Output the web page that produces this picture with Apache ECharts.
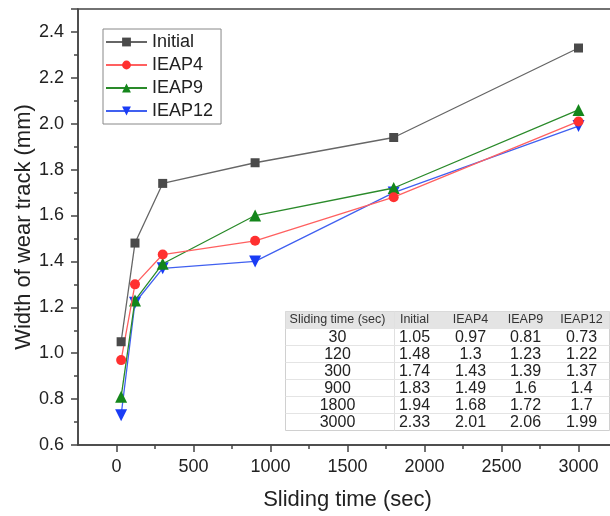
<!DOCTYPE html>
<html>
<head>
<meta charset="utf-8">
<script src="https://cdn.jsdelivr.net/npm/echarts@6/dist/echarts.min.js"></script>
<style>
html, body { margin: 0; padding: 0; background: #fff; }
#main { width: 610px; height: 516px; }
</style>
</head>
<body>
<div id="main"></div>
<script>
// sliding time (sec) and wear track width (mm)
var times = [30, 120, 300, 900, 1800, 3000];
var initial = [1.05, 1.48, 1.74, 1.83, 1.94, 2.33];
var ieap4 = [0.97, 1.3, 1.43, 1.49, 1.68, 2.01];
var ieap9 = [0.81, 1.23, 1.39, 1.6, 1.72, 2.06];
var ieap12 = [0.73, 1.22, 1.37, 1.4, 1.7, 1.99];
var names = ['Initial', 'IEAP4', 'IEAP9', 'IEAP12'];
var xTicks = [0, 500, 1000, 1500, 2000, 2500, 3000];
var xMinorTicks = [250, 750, 1250, 1750, 2250, 2750];

var font = 'Arial, "Liberation Sans", sans-serif';
var chart = echarts.init(document.getElementById('main'));

function pairs(ys) {
    return times.map(function (t, i) { return [t, ys[i]]; });
}

// inset table, built from the same arrays
var tblLeft = 283, tblTop = 309, tblW = 324, rowH = 17;
var colX = [52, 129, 185, 240, 296];
var header = ['Sliding time (sec)'].concat(names);
var cols = [times, initial, ieap4, ieap9, ieap12];
var tbl = [];
tbl.push({type: 'rect', shape: {x: 0, y: 0, width: tblW, height: rowH * 7},
    style: {fill: '#fff', stroke: '#d0d0d0', lineWidth: 1}});
tbl.push({type: 'rect', shape: {x: 0, y: 0, width: tblW, height: rowH},
    style: {fill: '#e4e4e4'}});
tbl.push({type: 'line', shape: {x1: 109, y1: 0, x2: 109, y2: rowH * 7},
    style: {stroke: '#e0e0e0', lineWidth: 1}});
header.forEach(function (h, c) {
    tbl.push({type: 'text', x: colX[c], y: rowH / 2,
        style: {text: h, fontSize: 12.5, fontFamily: font, fill: '#333', align: 'center', verticalAlign: 'middle'}});
});
times.forEach(function (t, r) {
    var y = rowH * (r + 1);
    tbl.push({type: 'line', shape: {x1: 0, y1: y, x2: tblW, y2: y},
        style: {stroke: '#e4e4e4', lineWidth: 1}});
    cols.forEach(function (col, c) {
        tbl.push({type: 'text', x: colX[c], y: y + rowH / 2 + 1,
            style: {text: String(col[r]), fontSize: 16, fontFamily: font, fill: '#222', align: 'center', verticalAlign: 'middle'}});
    });
});

var colors = ['#4a4a4a', '#ff3030', '#14861b', '#1a3cf5'];
var lineColors = ['#666666', '#ff6060', '#2a8a2a', '#4060f0'];
var symbols = ['rect', 'circle', 'triangle', 'triangle'];
var sizes = [9, 10, 12, 12];
var rots = [0, 0, 0, 180];
var datasets = [initial, ieap4, ieap9, ieap12];

var option = {
    animation: false,
    backgroundColor: '#fff',
    textStyle: {fontFamily: font},
    grid: {left: 78, top: 9, width: 539, height: 436, show: true, borderColor: '#444', borderWidth: 1.5,
        containLabel: false, outerBoundsMode: 'none'},
    legend: {
        left: 103, top: 29, orient: 'vertical',
        data: names,
        itemWidth: 41, itemHeight: 11, itemGap: 5,
        padding: [4, 8, 4, 2],
        borderColor: '#888', borderWidth: 1,
        textStyle: {fontSize: 18, color: '#222', lineHeight: 18, fontFamily: font}
    },
    xAxis: [{
        type: 'value', min: -250, max: 3250,
        position: 'bottom',
        name: 'Sliding time (sec)', nameLocation: 'middle', nameGap: 44, nameMoveOverlap: false,
        nameTextStyle: {fontSize: 22, color: '#222'},
        axisLine: {onZero: false, lineStyle: {color: '#444', width: 1.5}},
        axisTick: {customValues: xTicks, length: 7, lineStyle: {color: '#444', width: 1.5}},
        axisLabel: {customValues: xTicks, fontSize: 18, color: '#222', margin: 13,
            formatter: function (v) { return String(v); }},
        splitLine: {show: false}
    }, {
        type: 'value', min: -250, max: 3250,
        position: 'bottom',
        axisLine: {show: false, onZero: false},
        axisTick: {customValues: xMinorTicks, length: 4, lineStyle: {color: '#444', width: 1.5}},
        axisLabel: {show: false},
        splitLine: {show: false}
    }],
    yAxis: {
        type: 'value', min: 0.6, max: 2.5, interval: 0.2,
        name: 'Width of wear track (mm)', nameLocation: 'middle', nameGap: 43, nameMoveOverlap: false,
        nameTextStyle: {fontSize: 22, color: '#222'},
        axisLine: {show: true, onZero: false, lineStyle: {color: '#444', width: 1.5}},
        axisTick: {length: 7, lineStyle: {color: '#444', width: 1.5}},
        minorTick: {show: true, splitNumber: 2, length: 4, lineStyle: {color: '#444', width: 1.5}},
        axisLabel: {fontSize: 18, color: '#222', margin: 14, showMaxLabel: false,
            formatter: function (v) { return v.toFixed(1); }},
        splitLine: {show: false}
    },
    series: datasets.map(function (d, i) {
        return {
            name: names[i], type: 'line',
            data: pairs(d),
            symbol: symbols[i], symbolSize: sizes[i], symbolRotate: rots[i],
            itemStyle: {color: colors[i]},
            lineStyle: {color: lineColors[i], width: 1.3},
            z: 10 - i
        };
    }),
    graphic: [{type: 'group', left: tblLeft, top: tblTop, children: tbl}]
};
chart.setOption(option);
</script>
</body>
</html>
